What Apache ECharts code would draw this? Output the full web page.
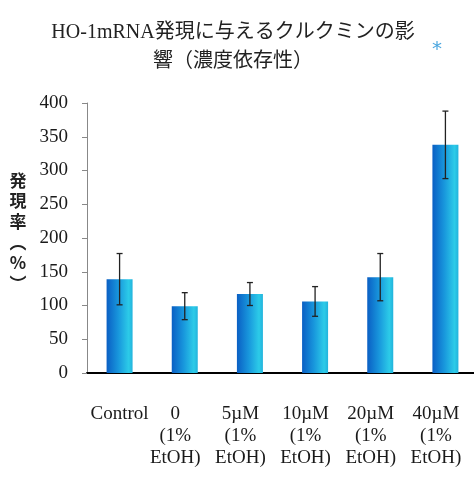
<!DOCTYPE html>
<html><head><meta charset="utf-8">
<script src="https://cdn.jsdelivr.net/npm/echarts@6/dist/echarts.min.js"></script>
<style>html,body{margin:0;padding:0;background:#fff}#c{width:474px;height:482px}</style>
</head><body><div id="c"></div>
<script>
const categories = ['Control', '0\n(1%\nEtOH)', '5µM\n(1%\nEtOH)', '10µM\n(1%\nEtOH)', '20µM\n(1%\nEtOH)', '40µM\n(1%\nEtOH)'];
const values = [139, 99, 117, 106, 142, 338];
const errors = [38, 20, 17, 22, 35, 50];
const yTicks = [0, 50, 100, 150, 200, 250, 300, 350, 400];
const titleText = 'HO-1mRNA発現に与えるクルクミンの影\n響（濃度依存性）';
const yName = '発\n現\n率\n︵\n%\n︶';

const serif = '"Liberation Serif", "DejaVu Serif", "Noto Sans CJK JP", serif';
const chart = echarts.init(document.getElementById('c'));
chart.setOption({
  animation: false,
  title: {
    text: titleText, left: 228, top: 13, textAlign: 'center',
    textStyle: { fontFamily: serif, fontSize: 20, fontWeight: 'normal', color: '#222', lineHeight: 29 }
  },
  graphic: [
    { type: 'text', left: 432, top: 40, style: { text: '*', fontSize: 20, fill: '#4ba6df', fontFamily: 'DejaVu Sans' } },
    { type: 'text', x: 18, y: 170, style: { text: yName, align: 'center', verticalAlign: 'top', fontFamily: '"Noto Sans CJK JP", sans-serif', fontSize: 17, lineHeight: 20.6, fill: '#222', fontWeight: 'bold' } }
  ],
  grid: { left: 87, right: -4, top: 103, bottom: 109, outerBoundsMode: 'none', containLabel: false },
  xAxis: {
    type: 'category',
    data: categories.map((c, i) => i === 0 ? c : { value: c, textStyle: { padding: [0, 19, 0, 0] } }),
    axisLine: { lineStyle: { color: '#000', width: 2 } },
    axisTick: { length: 7, lineStyle: { color: '#000', width: 1.5 } },
    axisLabel: { interval: 0, margin: 30, fontFamily: serif, fontSize: 19, lineHeight: 22, color: '#1a1a1a' }
  },
  yAxis: {
    type: 'value', min: yTicks[0], max: yTicks[yTicks.length - 1], interval: 50,
    axisLine: { show: true, lineStyle: { color: '#888', width: 1 } },
    axisTick: { show: true, length: 5, lineStyle: { color: '#888' } },
    splitLine: { show: false },
    axisLabel: { margin: 19, fontFamily: serif, fontSize: 19, color: '#1a1a1a' }
  },
  series: [{
    type: 'bar', data: values, barWidth: 26,
    itemStyle: {
      color: new echarts.graphic.LinearGradient(0, 0, 1, 0, [
        { offset: 0, color: '#0a5fc4' },
        { offset: 0.45, color: '#1896dc' },
        { offset: 0.85, color: '#2ccbe8' },
        { offset: 1, color: '#22b3dc' }
      ])
    }
  }, {
    type: 'custom',
    data: values.map((v, i) => [i, v - errors[i], v + errors[i]]),
    renderItem: function (params, api) {
      const lo = api.coord([api.value(0), api.value(1)]);
      const hi = api.coord([api.value(0), api.value(2)]);
      const w = 3;
      const st = { stroke: '#222', lineWidth: 1.3 };
      return { type: 'group', children: [
        { type: 'line', shape: { x1: hi[0], y1: hi[1], x2: lo[0], y2: lo[1] }, style: st },
        { type: 'line', shape: { x1: hi[0] - w, y1: hi[1], x2: hi[0] + w, y2: hi[1] }, style: st },
        { type: 'line', shape: { x1: lo[0] - w, y1: lo[1], x2: lo[0] + w, y2: lo[1] }, style: st }
      ] };
    },
    z: 10
  }]
});
</script></body></html>
